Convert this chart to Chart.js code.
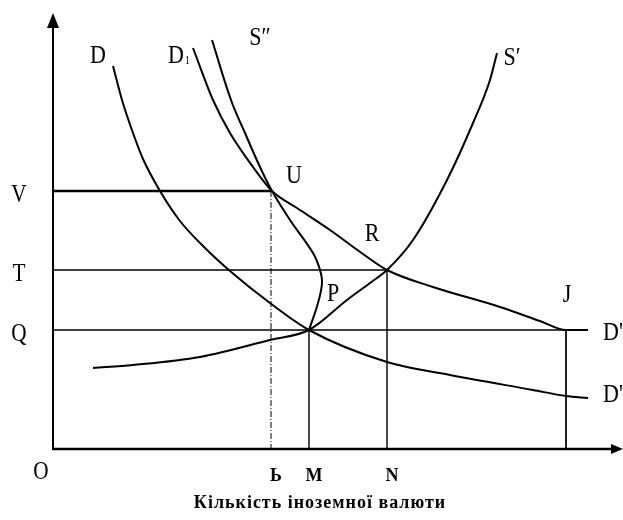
<!DOCTYPE html>
<html>
<head>
<meta charset="utf-8">
<script src="https://cdn.jsdelivr.net/npm/chart.js@4.4.1/dist/chart.umd.min.js"></script>
<style>
  html, body { margin: 0; padding: 0; background: #fff; }
  #wrap { width: 623px; height: 520px; }
</style>
</head>
<body>
<div id="wrap"><canvas id="chart"></canvas></div>
<script>
// ---- curves: [quantity, exchange rate] ----
const curveD = [[60,383],[69,349],[80,316],[90,290],[107,258],[127,228],[150,203],[177,178],
                [217,146],[256,119],[334,87],[397,74],[480,59],[513,53],[535,51]];
const curveD1 = [[140,401],[160,349],[177,316],[200,282],[219,258],[244,241],[277,219],
                 [310,195],[334,179],[380,162],[447,142],[487,128],[513,119],[535,119]];
const curveS2 = [[159,409],[178,349],[192,316],[207,282],[219,258],[237,229],[260,196],
                 [267,179],[269,166],[265,146],[256,119]];
const curveS = [[40,81],[80,84],[147,92],[217,109],[256,119],[294,149],[317,166],[334,179],
                [360,209],[394,269],[420,326],[437,369],[444,396]];

// ---- levels and quantities marked on the axes ----
const rateLevels = [258, 179, 119];
const rateLabels = ['V', 'T', 'Q'];
const rateEnds = [218, 334, 513];          // where each horizontal guide stops
const qtyTicks = [218, 256, 334, 513];
const qtyLabels = ['Ь', 'M', 'N', ''];
const qtyTops = [258, 119, 179, 119];      // where each vertical guide starts

// ---- point / curve names ----
const nameText = ['D', 'D', 'S″', 'S′', 'U', 'R', 'P', 'J', "D'", "D'"];
const nameSub  = ['', '1', '', '', '', '', '', '', '', ''];
const nameX = [45, 123, 207, 459, 241, 319, 280, 514, 550, 550];
const nameY = [393, 393, 411, 391, 273, 215, 155, 154, 116, 54];

const X_MAX = 569, Y_MAX = 435;
const SERIF = '"Liberation Serif", "DejaVu Serif", serif';

function toPts(arr) {
  return arr.map(p => ({ x: p[0], y: p[1] }));
}

function curve(data, smooth) {
  return {
    data: toPts(data),
    showLine: true,
    borderColor: '#000',
    borderWidth: 2,
    pointRadius: 0,
    tension: 0.4,
    cubicInterpolationMode: smooth,
    fill: false
  };
}

function guide(points, width, dash) {
  return {
    data: points,
    showLine: true,
    borderColor: '#000',
    borderWidth: width,
    borderDash: dash || [],
    pointRadius: 0,
    tension: 0,
    fill: false
  };
}

const datasets = [];
rateLevels.forEach((lvl, i) => {
  datasets.push(guide([{ x: 0, y: lvl }, { x: rateEnds[i], y: lvl }], i === 0 ? 2.5 : 1.4));
});
qtyTicks.forEach((q, i) => {
  const dash = i === 0 ? [6, 2, 1, 2] : [];
  const w = i === 0 || i === 3 ? 1 : 1.4;
  datasets.push(guide([{ x: q, y: qtyTops[i] }, { x: q, y: 0 }], w, dash));
});
datasets.push(curve(curveD, 'monotone'));
datasets.push(curve(curveD1, 'monotone'));
datasets.push(curve(curveS2, 'default'));
datasets.push(curve(curveS, 'monotone'));

// text squeezed a little sideways, like the scanned lettering
function say(ctx, text, px, py, font, align, sx) {
  ctx.save();
  ctx.font = font;
  ctx.textAlign = align;
  ctx.textBaseline = 'middle';
  ctx.translate(px, py);
  ctx.scale(sx, 1);
  ctx.fillText(text, 0, 0);
  const w = ctx.measureText(text).width * sx;
  ctx.restore();
  return w;
}

// axes with arrows plus all the lettering
const drawingPlugin = {
  id: 'axesAndNames',
  afterDatasetsDraw(chart) {
    const { ctx, chartArea: a, scales: { x, y } } = chart;
    ctx.save();
    ctx.strokeStyle = '#000';
    ctx.fillStyle = '#000';

    // axis lines
    ctx.lineWidth = 2;
    ctx.beginPath();
    ctx.moveTo(a.left, a.bottom);
    ctx.lineTo(a.left, a.top + 12);
    ctx.stroke();
    ctx.lineWidth = 2.5;
    ctx.beginPath();
    ctx.moveTo(a.left - 1, a.bottom);
    ctx.lineTo(a.right - 10, a.bottom);
    ctx.stroke();

    // arrow heads
    ctx.beginPath();
    ctx.moveTo(a.left, a.top - 1);
    ctx.lineTo(a.left - 6, a.top + 14);
    ctx.lineTo(a.left + 6, a.top + 14);
    ctx.closePath();
    ctx.fill();
    ctx.beginPath();
    ctx.moveTo(a.right + 1, a.bottom);
    ctx.lineTo(a.right - 11, a.bottom - 5);
    ctx.lineTo(a.right - 11, a.bottom + 5);
    ctx.closePath();
    ctx.fill();

    const big = '25px ' + SERIF;

    // rate labels on the left
    rateLevels.forEach((lvl, i) => {
      say(ctx, rateLabels[i], 19, y.getPixelForValue(lvl) + 4, big, 'center', 0.85);
    });
    say(ctx, 'O', 41, a.bottom + 23, big, 'center', 0.85);

    // quantity labels under the axis
    qtyTicks.forEach((q, i) => {
      if (qtyLabels[i]) {
        say(ctx, qtyLabels[i], x.getPixelForValue(q) + 5, a.bottom + 27, 'bold 18px ' + SERIF, 'center', 1);
      }
    });

    // curve and point names
    nameText.forEach((t, i) => {
      const px = x.getPixelForValue(nameX[i]);
      const py = y.getPixelForValue(nameY[i]);
      const w = say(ctx, t, px, py, big, i >= 8 ? 'left' : 'center', 0.88);
      if (nameSub[i]) {
        say(ctx, nameSub[i], px + w / 2 + 1, py + 5, '12px ' + SERIF, 'left', 0.8);
      }
    });

    // axis title
    ctx.font = 'bold 18px ' + SERIF;
    ctx.letterSpacing = '1px';
    ctx.textAlign = 'center';
    ctx.textBaseline = 'alphabetic';
    ctx.fillText('Кількість іноземної валюти', 320, 508);
    ctx.restore();
  }
};

new Chart(document.getElementById('chart'), {
  type: 'scatter',
  data: { datasets },
  options: {
    responsive: true,
    maintainAspectRatio: false,
    animation: false,
    layout: { padding: { left: 53, top: 14, right: 1, bottom: 71 } },
    scales: {
      x: { type: 'linear', min: 0, max: X_MAX, display: false },
      y: { type: 'linear', min: 0, max: Y_MAX, display: false }
    },
    plugins: {
      legend: { display: false },
      tooltip: { enabled: false }
    }
  },
  plugins: [drawingPlugin]
});
</script>
</body>
</html>
